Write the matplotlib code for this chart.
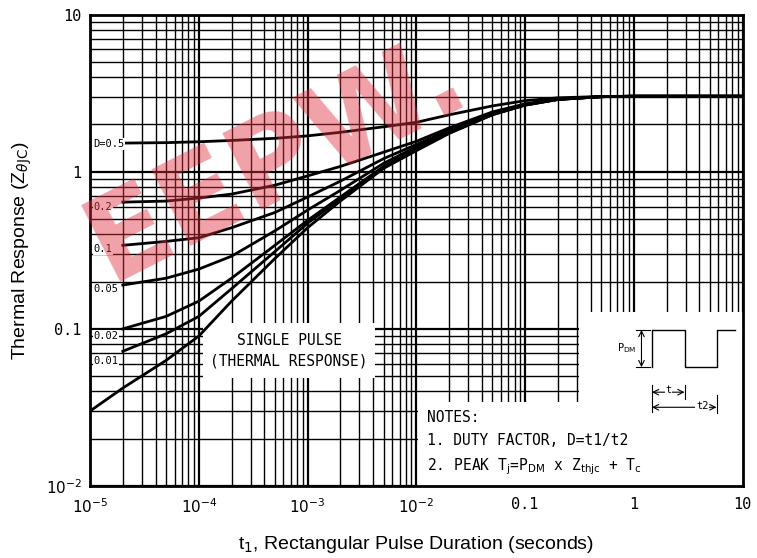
import matplotlib
matplotlib.use("Agg")
import matplotlib.pyplot as plt
from matplotlib.patches import Rectangle

# pulse duration (s) and thermal response
t_single = [1e-5, 2e-5, 5e-5, 1e-4, 2e-4, 5e-4, 1e-3, 2e-3, 5e-3, 1e-2, 2e-2, 5e-2, 0.1, 0.2, 0.5, 1, 10]
z_single = [0.030, 0.042, 0.063, 0.090, 0.15, 0.28, 0.44, 0.65, 1.05, 1.36, 1.75, 2.30, 2.65, 2.88, 3.0, 3.02, 3.02]

t_duty = [2e-5, 5e-5, 1e-4, 2e-4, 5e-4, 1e-3, 2e-3, 5e-3, 1e-2, 2e-2, 5e-2, 0.1, 0.2, 0.5, 1, 10]
z_d50 = [1.52, 1.53, 1.55, 1.58, 1.63, 1.69, 1.78, 1.93, 2.06, 2.30, 2.62, 2.83, 2.95, 3.01, 3.02, 3.02]
z_d20 = [0.64, 0.65, 0.68, 0.72, 0.82, 0.94, 1.08, 1.33, 1.56, 1.90, 2.40, 2.70, 2.90, 3.0, 3.02, 3.02]
z_d10 = [0.34, 0.36, 0.38, 0.44, 0.55, 0.69, 0.87, 1.21, 1.49, 1.84, 2.36, 2.68, 2.89, 3.0, 3.02, 3.02]
z_d05 = [0.19, 0.21, 0.24, 0.29, 0.42, 0.57, 0.76, 1.13, 1.44, 1.80, 2.33, 2.67, 2.89, 3.0, 3.02, 3.02]
z_d02 = [0.10, 0.12, 0.15, 0.21, 0.34, 0.49, 0.69, 1.08, 1.40, 1.77, 2.31, 2.66, 2.88, 3.0, 3.02, 3.02]
z_d01 = [0.072, 0.093, 0.12, 0.18, 0.31, 0.47, 0.67, 1.06, 1.38, 1.76, 2.31, 2.65, 2.88, 3.0, 3.02, 3.02]

duty_labels = ["D=0.5", "0.2", "0.1", "0.05", "0.02", "0.01"]
duty_curves = [z_d50, z_d20, z_d10, z_d05, z_d02, z_d01]
label_y = [1.50, 0.60, 0.32, 0.178, 0.090, 0.062]

x_ticks = [1e-5, 1e-4, 1e-3, 1e-2, 0.1, 1, 10]
x_ticklabels = ["$10^{-5}$", "$10^{-4}$", "$10^{-3}$", "$10^{-2}$", "0.1", "1", "10"]
y_ticks = [1e-2, 0.1, 1, 10]
y_ticklabels = ["$10^{-2}$", "0.1", "1", "10"]

plt.rcParams['mathtext.fontset'] = 'dejavusans'
mono = 'DejaVu Sans Mono'

fig = plt.figure(figsize=(7.57, 5.58), dpi=100)
ax = fig.add_axes([0.119, 0.129, 0.862, 0.845])
ax.set_xscale('log')
ax.set_yscale('log')
ax.set_xlim(1e-5, 10)
ax.set_ylim(1e-2, 10)

# graph-paper grid
ax.set_axisbelow(True)
ax.grid(which='major', color='black', lw=1.6)
ax.grid(which='minor', color='black', lw=1.0)
for s in ax.spines.values():
    s.set_linewidth(2)

# blank areas where the notes sit
def blank(x0, y0, x1, y1):
    ax.add_patch(Rectangle((x0, y0), x1 - x0, y1 - y0, transform=ax.transAxes,
                           facecolor='white', edgecolor='none', zorder=1))

blank(0.502, 0.0, 1.0, 0.178)
blank(0.750, 0.0, 1.0, 0.369)
blank(0.173, 0.229, 0.436, 0.345)

ax.plot(t_single, z_single, color='black', lw=2, zorder=3)
for z in duty_curves:
    ax.plot(t_duty, z, color='black', lw=2, zorder=3)

for lab, yv in zip(duty_labels, label_y):
    ax.text(1.07e-5, yv, lab, family=mono, fontsize=7.5, va='center', ha='left',
            zorder=4, bbox=dict(facecolor='white', edgecolor='none', pad=0.5))

ax.text(0.305, 0.287, "SINGLE PULSE\n(THERMAL RESPONSE)", transform=ax.transAxes,
        family=mono, fontsize=10.5, ha='center', va='center', linespacing=1.45, zorder=4)

note_kw = dict(transform=ax.transAxes, family=mono, fontsize=10.5, va='center', zorder=4)
ax.text(0.517, 0.146, "NOTES:", **note_kw)
ax.text(0.517, 0.097, "1. DUTY FACTOR, D=t1/t2", **note_kw)
ax.text(0.517, 0.042, r"2. PEAK T$_\mathrm{j}$=P$_\mathrm{DM}$ x Z$_\mathrm{thjc}$ + T$_\mathrm{c}$",
        **note_kw)

# pulse waveform sketch
tr = ax.transAxes
wx = [0.861, 0.861, 0.911, 0.911, 0.960, 0.960, 0.988]
wy = [0.252, 0.331, 0.331, 0.252, 0.252, 0.331, 0.331]
ax.plot(wx, wy, color='black', lw=1, transform=tr, zorder=4)
ax.plot([0.836, 0.858], [0.331, 0.331], color='black', lw=0.8, transform=tr, zorder=4)
ax.plot([0.836, 0.858], [0.252, 0.252], color='black', lw=0.8, transform=tr, zorder=4)
ax.annotate("", xy=(0.845, 0.331), xytext=(0.845, 0.252), xycoords=tr,
            arrowprops=dict(arrowstyle='<->', lw=0.8, shrinkA=0, shrinkB=0), zorder=4)
ax.text(0.838, 0.292, r"P$_\mathrm{DM}$", transform=tr, family=mono, fontsize=7.5,
        ha='right', va='center', zorder=4)
ax.plot([0.861, 0.861], [0.157, 0.214], color='black', lw=0.8, transform=tr, zorder=4)
ax.plot([0.911, 0.911], [0.185, 0.214], color='black', lw=0.8, transform=tr, zorder=4)
ax.plot([0.960, 0.960], [0.155, 0.193], color='black', lw=0.8, transform=tr, zorder=4)
ax.annotate("", xy=(0.861, 0.199), xytext=(0.911, 0.199), xycoords=tr,
            arrowprops=dict(arrowstyle='<->', lw=0.8, shrinkA=0, shrinkB=0), zorder=4)
ax.text(0.886, 0.203, "t", transform=tr, family=mono, fontsize=7.5, ha='center',
        va='center', zorder=4, bbox=dict(facecolor='white', edgecolor='none', pad=0.3))
ax.annotate("", xy=(0.861, 0.167), xytext=(0.960, 0.167), xycoords=tr,
            arrowprops=dict(arrowstyle='<->', lw=0.8, shrinkA=0, shrinkB=0), zorder=4)
ax.text(0.938, 0.170, "t2", transform=tr, family=mono, fontsize=7.5, ha='center',
        va='center', zorder=4, bbox=dict(facecolor='white', edgecolor='none', pad=0.3))

ax.set_xticks(x_ticks)
ax.set_xticklabels(x_ticklabels, family=mono, fontsize=11)
ax.set_yticks(y_ticks)
ax.set_yticklabels(y_ticklabels, family=mono, fontsize=11)
ax.tick_params(which='both', length=0, pad=8)
ax.tick_params(axis='y', pad=6)

ax.set_ylabel(r"Thermal Response (Z$_{\theta\mathrm{JC}}$)", family='Liberation Sans',
              fontsize=14, labelpad=8)
ax.set_xlabel(r"t$_1$, Rectangular Pulse Duration (seconds)", family='Liberation Sans',
              fontsize=14, labelpad=13)

# red watermark over the top-left
fig.text(0.09, 0.50, "EEPW.", color='#e03040', alpha=0.45, fontsize=84,
         fontweight='bold', family='DejaVu Sans', rotation=27, zorder=10)

fig.savefig("out.png", dpi=100)
